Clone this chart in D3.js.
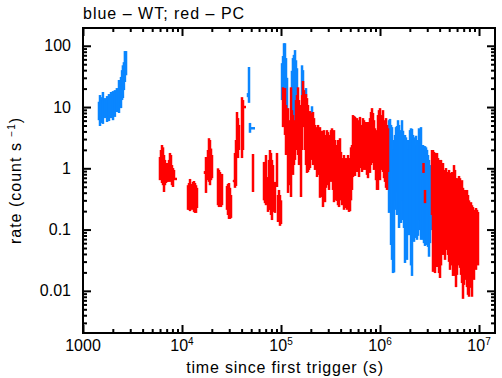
<!DOCTYPE html>
<html>
<head>
<meta charset="utf-8">
<script src="https://cdn.jsdelivr.net/npm/d3@7"></script>
<style>
  body { margin: 0; background: #fff; }
  text { font-family: "Liberation Sans", Arial, sans-serif; fill: #000; }
</style>
</head>
<body>
<div id="chart"></div>
<script>
// WT mode: [time since trigger (s), rate low, rate high]
var wtPoints = [
  [1450,6.1,12.2],[1485,4.9,15.7],[1520,5.5,14.5],[1590,5.3,17.6],[1670,6.6,14.0],[1750,5.7,15.1],
  [1830,5.9,16.3],[1920,6.6,17.6],[2010,6.1,18.2],[2100,6.9,18.9],[2200,8.3,20.4],[2310,8.0,27.6],
  [2420,9.6,31],[2480,13,40],[2530,14,48],[2590,18.9,54],[2650,25.6,82],[2720,33,82],
  [46400,14.5,16.9],[47500,11.7,45],[48600,3.8,5.5],
  [102400,13,52],[104800,15.7,68],[107200,13,110],[109700,18.9,110],[112300,27.6,63],[115000,7.4,30],
  [125000,3.5,4.9],[129000,3.5,39],[132000,6.1,63],[135000,8.9,71],[138500,3.5,85],[141700,13,58],
  [145000,14,43],[152000,4.2,4.9],[163000,15.7,48],[166800,18.9,40],[178800,14.5,20.4],[205600,7.4,10.3],
  [546000,6.1,7.1],
  [1.233e6,0.187,6.1],[1.262e6,0.30,6.4],[1.292e6,0.056,5.1],[1.322e6,0.032,4.7],[1.353e6,0.0195,2.9],
  [1.385e6,0.020,2.0],[1.417e6,0.21,3.5],[1.450e6,0.30,4.7],[1.485e6,0.173,4.9],[1.520e6,0.396,6.1],
  [1.556e6,0.106,5.1],[1.592e6,0.194,4.2],[1.630e6,0.128,3.9],[1.668e6,0.143,6.1],[1.707e6,0.30,4.1],
  [1.747e6,0.106,2.9],[1.788e6,0.0285,3.5],[1.830e6,0.068,3.2],[1.873e6,0.032,2.4],[1.917e6,0.106,2.9],
  [1.963e6,0.081,2.0],[2.009e6,0.098,4.2],[2.056e6,0.026,4.5],[2.104e6,0.0175,4.4],[2.154e6,0.068,3.5],
  [2.205e6,0.063,3.2],[2.256e6,0.091,2.9],[2.310e6,0.073,3.4],[2.364e6,0.068,2.4],[2.420e6,0.079,2.9],
  [2.476e6,0.098,4.5],[2.535e6,0.143,3.9],[2.594e6,0.068,4.7],[2.655e6,0.076,2.0],[2.718e6,0.068,2.4],
  [2.780e6,0.060,2.3],[2.847e6,0.054,2.3],[2.914e6,0.068,2.2],[2.983e6,0.056,2.0],[3.053e6,0.052,1.65],
  [3.125e6,0.036,1.37],[3.198e6,0.060,1.13],[3.273e6,0.098,0.94]
];
// WT bins drawn with their time width: [start, end, rate]
var wtBins = [[47500,54600,4.5]];

// PC mode: [time since trigger (s), rate low, rate high]
var pcPoints = [
  [5990,0.64,1.53],[6130,0.69,1.99],[6280,0.575,2.4],[6430,0.53,2.2],[6580,0.41,1.65],[6730,0.53,1.37],
  [6890,0.575,1.13],[7050,0.60,1.22],[7220,0.60,0.94],[7390,0.64,1.37],[7560,0.60,1.78],[7740,0.69,1.65],
  [7920,0.53,1.13],[8110,0.495,1.01],[8300,0.69,0.94],
  [11500,0.21,0.53],[11770,0.21,0.575],[12050,0.20,0.67],[12330,0.225,0.555],[12620,0.21,0.515],
  [12920,0.217,0.60],[13220,0.194,0.62],[13530,0.187,0.575],[13850,0.187,0.53],[14170,0.225,0.48],
  [17070,0.81,0.90],[17470,0.396,1.53],[17880,0.64,1.37],[18300,0.78,1.99],[18730,0.60,3.1],
  [19170,0.53,2.9],[19630,0.64,2.1],[20090,0.69,1.65],
  [23100,0.25,1.0],[23640,0.233,0.94],[24200,0.30,0.87],[24760,0.233,0.78],[25350,0.25,0.81],
  [28470,0.21,0.515],[29140,0.173,0.555],[29830,0.149,0.575],[30530,0.149,0.48],[31250,0.155,0.367],
  [33500,0.60,0.64],[34290,0.48,1.78],[35100,0.515,2.9],[35930,1.65,8.3],[36770,1.47,6.6],[37640,1.99,5.1],
  [40360,1.47,14.5],[41310,1.99,13],
  [52130,0.41,1.71],
  [67320,0.30,1.27],[68900,0.27,1.27],[70520,0.25,1.65],[73870,0.194,0.72],[75610,0.21,1.37],
  [77390,0.21,1.99],[79210,0.173,1.78],[81070,0.143,1.37],[82980,0.194,1.13],[86930,0.187,0.60],
  [91070,0.495,1.78],[93210,0.133,0.367],[95400,0.143,0.443],[97640,0.115,0.367],[100000,0.123,0.30],
  [104800,4.7,21],[107200,7.4,17.6],[109700,3.5,20.4],[112300,1.65,10.8],[115000,1.65,8.9],
  [117700,0.396,9.6],[120500,0.53,4.2],[123300,1.37,6.1],[126200,0.34,21],[129200,0.94,8.9],
  [132200,0.78,7.4],[135300,1.13,5.1],[138500,1.37,6.1],[141700,1.99,13],[145000,2.9,15.7],
  [148500,1.65,21],[152000,1.13,13],[155600,1.37,10.8],[159200,0.34,8.9],[163000,1.99,15.7],
  [166800,6.1,26.6],[170700,4.7,18.9],[174700,1.99,13],[178800,1.13,16.3],[183000,0.84,14],
  [187300,0.87,10.8],[191700,0.94,8.3],[196300,1.01,8.6],[200900,1.37,7.4],[205600,1.99,8.0],
  [210400,1.13,8.3],[215400,1.37,6.6],[220500,0.94,5.1],[225600,1.01,4.7],[231000,0.72,4.2],
  [236400,0.94,5.1],[242000,0.78,4.5],[247600,0.33,4.7],[253500,0.443,3.9],[259400,0.34,4.1],
  [265500,0.233,3.8],[271800,0.30,4.2],[278200,0.28,3.5],[284700,0.48,2.9],[291400,0.53,4.2],
  [298300,0.64,3.9],[305300,0.443,3.5],[312500,0.64,2.9],[319800,0.60,4.2],[327300,0.64,4.5],
  [335000,0.443,3.8],[342900,0.28,4.2],[351000,0.367,2.9],[359300,0.30,2.4],[367700,0.293,1.99],
  [376400,0.25,2.9],[385200,0.233,2.4],[394300,0.30,3.1],[403600,0.33,1.85],[413100,0.25,1.27],
  [422800,0.27,1.47],[432700,0.21,1.65],[442900,0.25,1.37],[453400,0.225,1.47],[464000,0.21,1.27],
  [475000,0.233,1.65],[486100,0.194,1.37],[497600,0.20,1.47],[509300,0.30,2.2],[521300,0.443,2.4],
  [533500,0.72,7.4],[546100,0.94,7.1],[558900,0.75,6.9],[572100,1.13,6.1],[585500,0.87,6.6],
  [599300,0.94,5.1],[613400,0.72,6.1],[627800,1.01,6.9],[642600,1.37,4.7],[657700,0.87,5.1],
  [673200,1.13,6.6],[689000,0.94,6.1],[705200,1.22,4.5],[721800,0.94,5.7],[738700,0.78,5.1],
  [756100,0.69,5.7],[773900,0.94,4.5],[792100,0.84,6.6],[810700,1.13,8.3],[829800,1.37,9.6],
  [849300,1.22,8.0],[869300,0.94,6.1],[889700,1.37,4.5],[910700,0.64,4.2],[932100,0.443,3.2],
  [954000,0.443,7.4],[976400,0.78,8.9],[1.000e6,0.64,9.6],[1.024e6,0.94,7.4],[1.048e6,1.13,6.9],
  [1.072e6,0.87,8.9],[1.097e6,0.69,6.1],[1.123e6,0.60,5.1],[1.150e6,0.48,6.6],[1.177e6,0.443,5.1],
  [1.205e6,0.87,4.5],
  [2.75e6,0.84,1.22],[2.847e6,0.27,0.443],
  [3.350e6,0.173,1.99],[3.429e6,0.0204,1.99],[3.510e6,0.128,1.85],[3.593e6,0.0195,1.65],[3.677e6,0.068,1.78],
  [3.764e6,0.0245,1.78],[3.852e6,0.0465,1.47],[3.943e6,0.0195,1.37],[4.036e6,0.0162,1.22],[4.131e6,0.026,1.37],
  [4.228e6,0.056,1.13],[4.327e6,0.0385,1.22],[4.429e6,0.068,0.94],[4.534e6,0.032,0.84],[4.640e6,0.056,1.01],
  [4.750e6,0.0465,0.78],[4.861e6,0.0385,0.87],[4.976e6,0.0297,0.94],[5.093e6,0.022,0.84],[5.213e6,0.0344,0.78],
  [5.335e6,0.026,0.87],[5.461e6,0.0175,0.84],[5.589e6,0.022,1.13],[5.721e6,0.0175,0.94],[5.855e6,0.0115,0.69],
  [5.993e6,0.0182,0.69],[6.134e6,0.026,0.64],[6.278e6,0.032,0.75],[6.426e6,0.0237,0.69],[6.577e6,0.0182,0.60],
  [6.732e6,0.0134,0.64],[6.890e6,0.0074,0.48],[7.052e6,0.0125,0.443],[7.218e6,0.0195,0.443],[7.387e6,0.0151,0.396],
  [7.561e6,0.0115,0.443],[7.739e6,0.0086,0.367],[7.921e6,0.008,0.30],[8.107e6,0.0112,0.27],[8.298e6,0.0125,0.28],
  [8.493e6,0.008,0.25],[8.693e6,0.0204,0.233],[8.897e6,0.0151,0.21],[9.107e6,0.0285,0.194],[9.321e6,0.022,0.225],
  [9.540e6,0.0415,0.21],[9.764e6,0.026,0.194]
];
var pcBins = [[8300,8900,0.67],[16700,17500,0.85],[32900,34300,0.62],[40400,44300,10]];

var xTicks = [1000, 1e4, 1e5, 1e6, 1e7];
var xTickBase = ["1000", "10", "10", "10", "10"];
var xTickExp = ["", "4", "5", "6", "7"];
var yTicks = [100, 10, 1, 0.1, 0.01];
var yTickLabels = ["100", "10", "1", "0.1", "0.01"];

var width = 502, height = 378;
var plotLeft = 83, plotRight = 495, plotTop = 28, plotBottom = 333;

var svg = d3.select("#chart").append("svg")
    .attr("width", width)
    .attr("height", height);

var x = d3.scaleLog().domain([1000, 1.45e7]).range([plotLeft, plotRight]);
var y = d3.scaleLog().domain([0.00205, 195]).range([plotBottom, plotTop]);

function minors(scale) {
  var d = scale.domain(), out = [];
  for (var e = Math.floor(Math.log10(d[0])); e <= Math.ceil(Math.log10(d[1])); e++) {
    for (var m = 2; m <= 9; m++) {
      var v = m * Math.pow(10, e);
      if (v > d[0] && v < d[1]) out.push(v);
    }
  }
  return out;
}

// error bars
function drawSet(points, bins, color) {
  var g = svg.append("g")
    .attr("stroke", color)
    .attr("stroke-width", 2.5);
  g.selectAll(".err")
    .data(points)
    .enter()
    .append("line")
      .attr("x1", function(d) { return x(d[0]); })
      .attr("x2", function(d) { return x(d[0]); })
      .attr("y1", function(d) { return y(d[1]); })
      .attr("y2", function(d) { return y(d[2]); });
  g.selectAll(".bin")
    .data(bins)
    .enter()
    .append("line")
      .attr("x1", function(d) { return x(d[0]); })
      .attr("x2", function(d) { return x(d[1]); })
      .attr("y1", function(d) { return y(d[2]); })
      .attr("y2", function(d) { return y(d[2]); });
}
drawSet(wtPoints, wtBins, "#0a86ff");
drawSet(pcPoints, pcBins, "#ff0000");

// ticks on all four sides, pointing inwards
function ticks(axis, pos, values, size) {
  var g = svg.append("g")
    .attr("transform", pos)
    .call(axis.tickValues(values).tickSize(-size).tickFormat(""));
  g.select(".domain").remove();
  g.selectAll(".tick line").attr("stroke", "#000").attr("stroke-width", 2);
}
ticks(d3.axisBottom(x), "translate(0," + plotBottom + ")", xTicks, 8);
ticks(d3.axisBottom(x), "translate(0," + plotBottom + ")", minors(x), 4);
ticks(d3.axisTop(x), "translate(0," + plotTop + ")", xTicks, 8);
ticks(d3.axisTop(x), "translate(0," + plotTop + ")", minors(x), 4);
ticks(d3.axisLeft(y), "translate(" + plotLeft + ",0)", yTicks, 8);
ticks(d3.axisLeft(y), "translate(" + plotLeft + ",0)", minors(y), 4);
ticks(d3.axisRight(y), "translate(" + plotRight + ",0)", yTicks, 8);
ticks(d3.axisRight(y), "translate(" + plotRight + ",0)", minors(y), 4);

// frame
svg.append("rect")
  .attr("x", plotLeft).attr("y", plotTop)
  .attr("width", plotRight - plotLeft).attr("height", plotBottom - plotTop)
  .attr("fill", "none")
  .attr("stroke", "#000")
  .attr("stroke-width", 2);

// tick labels
var xl = svg.append("g").selectAll("text")
  .data(xTicks)
  .enter()
  .append("text")
    .attr("x", function(d) { return x(d); })
    .attr("y", plotBottom + 18)
    .attr("text-anchor", "middle")
    .attr("font-size", 16);
xl.append("tspan").text(function(d, i) { return xTickBase[i]; });
xl.append("tspan")
  .attr("font-size", 10)
  .attr("dy", -6)
  .text(function(d, i) { return xTickExp[i]; });

svg.append("g").selectAll("text")
  .data(yTicks)
  .enter()
  .append("text")
    .attr("x", plotLeft - 12)
    .attr("y", function(d) { return y(d) + 5.5; })
    .attr("text-anchor", "end")
    .attr("font-size", 16)
    .text(function(d, i) { return yTickLabels[i]; });

// titles
svg.append("text")
  .attr("x", plotLeft)
  .attr("y", 18.5)
  .attr("font-size", 16)
  .attr("letter-spacing", 1)
  .text("blue \u2013 WT; red \u2013 PC");

svg.append("text")
  .attr("x", (plotLeft + plotRight) / 2 - 4)
  .attr("y", 373)
  .attr("text-anchor", "middle")
  .attr("font-size", 16)
  .attr("letter-spacing", 0.8)
  .text("time since first trigger (s)");

var yt = svg.append("text")
  .attr("transform", "translate(20.5," + ((plotTop + plotBottom) / 2) + ") rotate(-90)")
  .attr("text-anchor", "middle")
  .attr("font-size", 16)
  .attr("letter-spacing", 1);
yt.append("tspan").text("rate (count s ");
yt.append("tspan").attr("font-size", 10).attr("dy", -6).text("\u22121");
yt.append("tspan").attr("dy", 6).text(")");
</script>
</body>
</html>
